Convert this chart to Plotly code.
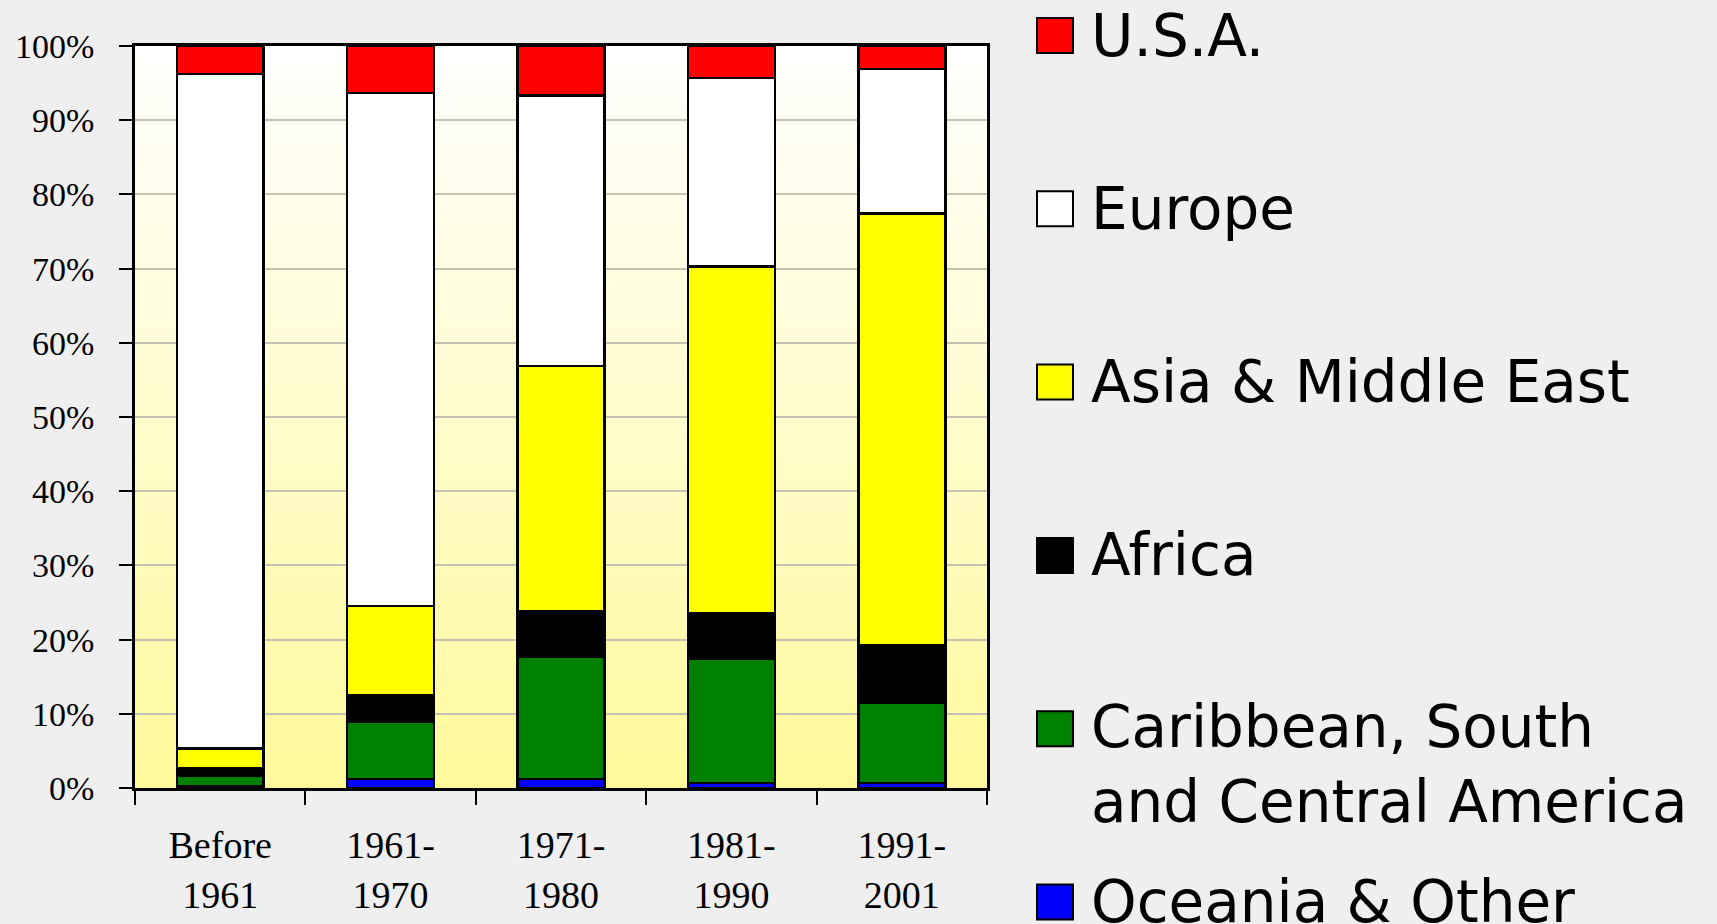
import plotly.graph_objects as go

categories = ["Before<br>1961", "1961-<br>1970", "1971-<br>1980", "1981-<br>1990", "1991-<br>2001"]

# Series, listed bottom-to-top of the stack
oceania = [0.2, 1.2, 1.2, 0.7, 0.7]
caribbean = [1.5, 7.7, 16.5, 16.7, 10.8]
africa = [0.9, 3.6, 6.1, 6.1, 7.8]
asia = [2.7, 12.0, 33.1, 46.8, 58.1]
europe = [90.9, 69.2, 36.4, 25.4, 19.5]
usa = [3.8, 6.3, 6.7, 4.3, 3.1]

series_names = ["Oceania & Other", "Caribbean, South<br>and Central America", "Africa",
                "Asia & Middle East", "Europe", "U.S.A."]
series_values = [oceania, caribbean, africa, asia, europe, usa]
series_colors = ["#0000FF", "#008000", "#000000", "#FFFF00", "#FFFFFF", "#FF0000"]

y_ticks = list(range(0, 101, 10))
y_labels = [f"{v}%" for v in y_ticks]

fig = go.Figure()
for name, vals, col in zip(series_names, series_values, series_colors):
    fig.add_trace(go.Bar(
        x=categories, y=vals, name=name,
        marker=dict(color=col, line=dict(color="#000000", width=2.5)),
        showlegend=False,
    ))

# plot area geometry (pixels) used for the hand-made legend
L, R, T, B = 135, 987, 46, 788
W, H = R - L, B - T

shapes = []
# vertical gradient background (white at top -> pale yellow at bottom)
n = 80
top_rgb = (255, 255, 255)
bot_rgb = (255, 249, 155)
for i in range(n):
    f = (i + 0.5) / n
    r = round(top_rgb[0] + (bot_rgb[0] - top_rgb[0]) * f)
    g = round(top_rgb[1] + (bot_rgb[1] - top_rgb[1]) * f)
    b = round(top_rgb[2] + (bot_rgb[2] - top_rgb[2]) * f)
    shapes.append(dict(
        type="rect", xref="x domain", yref="y domain", layer="below",
        x0=0, x1=1, y0=1 - (i + 1) / n - 0.002, y1=1 - i / n + 0.002,
        fillcolor=f"rgb({r},{g},{b})", line=dict(width=0),
    ))

# legend (top to bottom: U.S.A. first)
legend_order = list(range(len(series_names)))[::-1]
centers_px = [35.5 + k * 173.3 for k in range(len(series_names))]
annotations = []
for k, idx in enumerate(legend_order):
    cy = centers_px[k]
    shapes.append(dict(
        type="rect", xref="paper", yref="paper",
        x0=(1037 - L) / W, x1=(1073 - L) / W,
        y0=(B - (cy + 17.5)) / H, y1=(B - (cy - 17.5)) / H,
        fillcolor=series_colors[idx], line=dict(color="#000000", width=2),
    ))
    nlines = series_names[idx].count("<br>") + 1
    ty = cy + (nlines - 1) * 36
    annotations.append(dict(
        xref="paper", yref="paper", x=(1089 - L) / W, y=(B - ty) / H,
        xanchor="left", yanchor="middle", showarrow=False, align="left",
        text=series_names[idx],
        font=dict(family="DejaVu Sans", size=58, color="#000000"),
    ))

fig.update_layout(
    barmode="stack",
    bargap=0.49,
    width=1717, height=924,
    margin=dict(l=L, r=1717 - R, t=T, b=924 - B, pad=0),
    paper_bgcolor="#EFEFEF",
    plot_bgcolor="#FFFFFF",
    shapes=shapes,
    annotations=annotations,
    showlegend=False,
    xaxis=dict(
        type="category",
        automargin=False,
        showline=True, linecolor="#000000", linewidth=2.5, mirror=True,
        ticks="outside", ticklen=14, tickwidth=2, tickcolor="#000000",
        tickson="boundaries",
        showgrid=False, zeroline=False,
        tickfont=dict(family="Liberation Serif", size=38, color="#000000"),
        ticklabelstandoff=22,
    ),
    yaxis=dict(
        range=[0, 100],
        automargin=False,
        tickvals=y_ticks, ticktext=y_labels,
        showline=True, linecolor="#000000", linewidth=2.5, mirror=True,
        ticks="outside", ticklen=13, tickwidth=2, tickcolor="#000000",
        showgrid=True, gridcolor="#C4C2B0", gridwidth=2,
        zeroline=False,
        tickfont=dict(family="Liberation Serif", size=34, color="#000000"),
        ticklabelstandoff=18,
    ),
)

fig.write_html("out.html")
